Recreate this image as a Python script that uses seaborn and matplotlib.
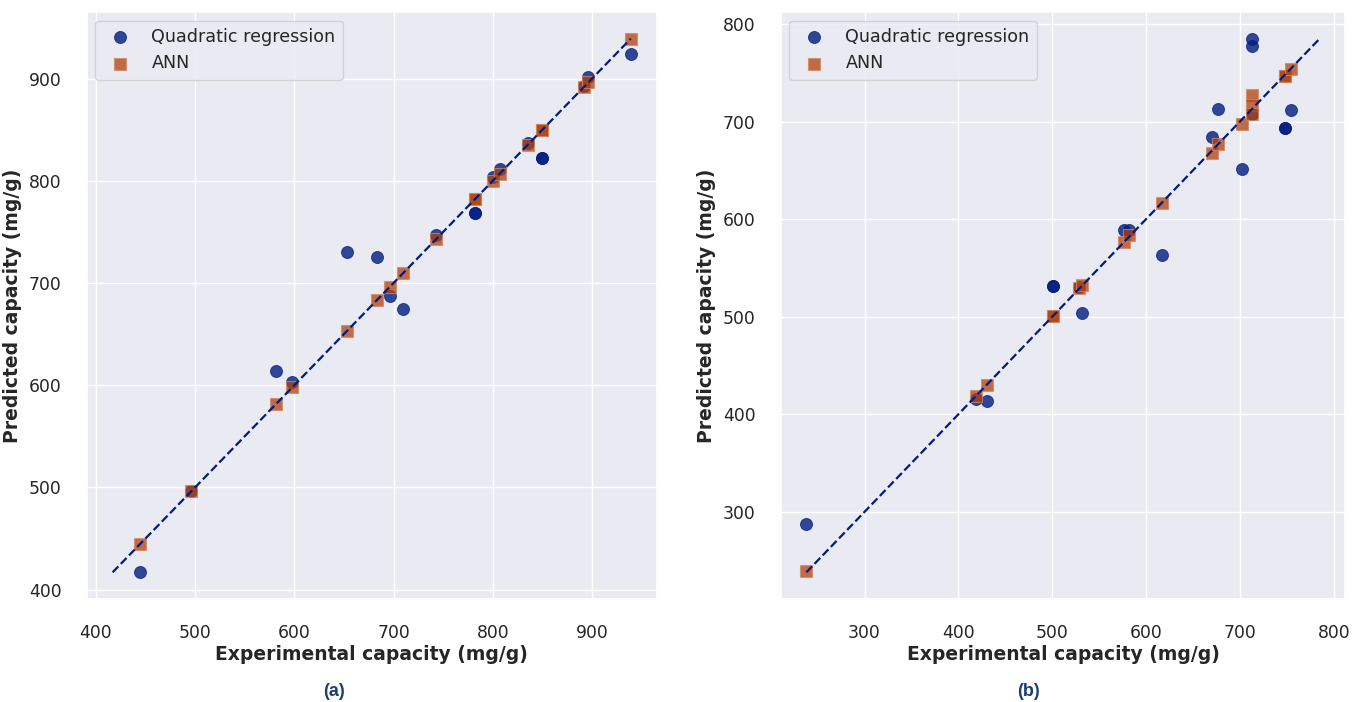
import numpy as np
import pandas as pd
import matplotlib
matplotlib.use("Agg")
import matplotlib.pyplot as plt
import seaborn as sns

# ---- Panel (a) data ----
exp_a = [445, 496, 582, 598, 653, 683, 696, 710, 743, 782, 782, 800, 807, 835, 850, 850, 892, 896, 939]
quad_a = [417, 497, 614, 603, 730, 725, 687, 675, 747, 768, 768, 804, 812, 837, 822, 822, 893, 902, 924]
ann_a = [445, 497, 582, 598, 653, 683, 696, 710, 743, 782, 782, 800, 807, 835, 850, 850, 892, 897, 939]

# ---- Panel (b) data ----
exp_b = [238, 419, 430, 501, 501, 529, 532, 576, 582, 617, 670, 677, 702, 713, 713, 713, 748, 748, 755]
quad_b = [288, 416, 414, 531, 531, 530, 504, 589, 589, 563, 684, 713, 651, 785, 777, 708, 693, 693, 712]
ann_b = [239, 419, 430, 501, 501, 529, 533, 577, 584, 617, 668, 677, 698, 727, 717, 708, 747, 747, 754]

xticks_a = [400, 500, 600, 700, 800, 900]
yticks_a = [400, 500, 600, 700, 800, 900]
xticks_b = [300, 400, 500, 600, 700, 800]
yticks_b = [300, 400, 500, 600, 700, 800]

panel_labels = ["(a)", "(b)"]
series_names = ["Quadratic regression", "ANN"]

sns.set_theme(style="darkgrid")
plt.rcParams['font.family'] = ['DejaVu Sans']

blue = "#001c7f"
orange = "#b1400d"

fig = plt.figure(figsize=(13.52, 7.02), dpi=100)
ax_a = fig.add_axes([86.7 / 1352, (702 - 599) / 702, 570 / 1352, 587 / 702])
ax_b = fig.add_axes([780.7 / 1352, (702 - 599) / 702, 564.6 / 1352, 587 / 702])

def draw(ax, exp, quad, ann, xt, yt):
    df = pd.DataFrame({"exp": exp, "quad": quad, "ann": ann})
    sns.scatterplot(data=df, x="exp", y="quad", ax=ax, color=blue, marker="o",
                    s=75, alpha=0.8, edgecolor=blue, linewidth=0.6,
                    label=series_names[0])
    sns.scatterplot(data=df, x="exp", y="ann", ax=ax, color=orange, marker="s",
                    s=70, alpha=0.75, edgecolor="#d08a66", linewidth=0.8,
                    label=series_names[1])
    lo = min(min(exp), min(quad), min(ann))
    hi = max(max(exp), max(quad), max(ann))
    line = pd.DataFrame({"x": [lo, hi], "y": [lo, hi]})
    sns.lineplot(data=line, x="x", y="y", ax=ax, color=blue, linestyle="--",
                 linewidth=1.6)
    ax.set_xticks(xt)
    ax.set_yticks(yt)
    ax.tick_params(axis="both", labelsize=12.4, pad=12, colors="#262626")
    ax.set_xlabel("Experimental capacity (mg/g)", fontsize=13.5,
                  fontweight="bold", labelpad=2)
    ax.set_ylabel("Predicted capacity (mg/g)", fontsize=13.5,
                  fontweight="bold", labelpad=5)
    ax.legend(loc="upper left", fontsize=12.6, frameon=True,
              borderaxespad=0.5)

draw(ax_a, exp_a, quad_a, ann_a, xticks_a, yticks_a)
draw(ax_b, exp_b, quad_b, ann_b, xticks_b, yticks_b)

for xpos, lab in zip([334, 1029], panel_labels):
    fig.text(xpos / 1352, 1 - 691 / 702, lab, ha="center", va="center",
             fontsize=13, fontweight="bold", color="#1a3f73",
             family=["Liberation Sans", "DejaVu Sans"])

fig.savefig("out.png", dpi=100)
